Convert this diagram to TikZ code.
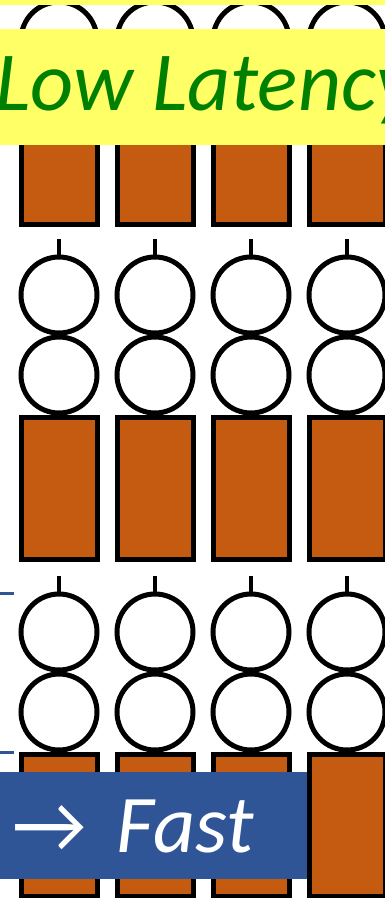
\documentclass[tikz,border=0pt]{standalone}
\usepackage{fontspec}
\setmainfont{Carlito}
\newfontfamily\arrowfont{Carlito}
\definecolor{ored}{HTML}{C55A11}
\definecolor{bbox}{HTML}{2F5597}
\definecolor{ybox}{HTML}{FFFF66}
\definecolor{gtext}{HTML}{008000}
\tikzset{
  ball/.style={circle,draw=black,line width=5pt,fill=white,minimum size=76pt,inner sep=0pt},
  block/.style={rectangle,draw=black,line width=5pt,fill=ored,minimum width=76pt,minimum height=142pt,inner sep=0pt},
  stem/.style={line width=4pt,draw=black},
  tick/.style={line width=3pt,draw=bbox},
}
\begin{document}
\begin{tikzpicture}[x=1pt,y=-1pt]
\useasboundingbox (0,0) rectangle (385,898);
\clip (0,0) rectangle (385,898);
\fill[white] (0,0) rectangle (385,898);
\foreach \r/\dy in {1/-335,2/0,3/337}{
  \foreach \c/\x in {1/59,2/155,3/251,4/347}{
    \node[ball] (u\r\c) at (\x,295+\dy) {};
    \node[ball] (l\r\c) at (\x,375+\dy) {};
    \node[block] (b\r\c) at (\x,488.5+\dy) {};
    \coordinate (s\r\c) at (\x,239+\dy);
    \draw[stem] (u\r\c.north) -- (s\r\c);
  }
}
% ticks
\coordinate (ta1) at (0,593); \coordinate (ta2) at (14,593);
\coordinate (tb1) at (0,752); \coordinate (tb2) at (14,752);
\draw[tick] (ta1) -- (ta2);
\draw[tick] (tb1) -- (tb2);
% yellow bars
\fill[ybox] (0,0) rectangle (385,5);
\node[fill=ybox,minimum width=400pt,minimum height=116pt,inner sep=0pt,anchor=north west] (yb) at (0,29) {};
\node[anchor=base west,inner sep=0pt,text=gtext,font=\fontsize{84}{90}\selectfont\itshape] (lowlat) at (-5,110) {Low Latency};
% blue box
\node[fill=bbox,minimum width=307pt,minimum height=107pt,inner sep=0pt,anchor=north west] (bb) at (0,772) {};
\node[anchor=base west,inner sep=0pt,text=white,font=\fontsize{82}{90}\selectfont] (fast) at (12,852) {{\arrowfont →}\hspace{30pt}\itshape Fast};
\end{tikzpicture}
\end{document}
